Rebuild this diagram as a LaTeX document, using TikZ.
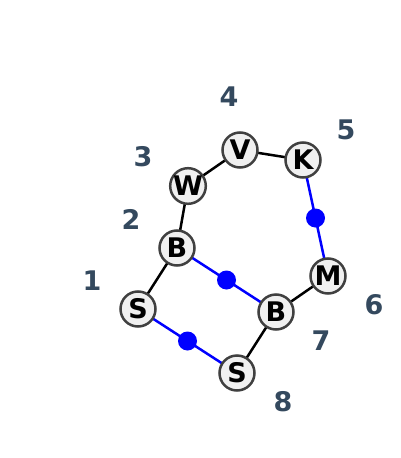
\documentclass[tikz,border=0pt]{standalone}
\usepackage{fontspec}
\setmainfont{DejaVu Sans}
\usetikzlibrary{calc,backgrounds}
\definecolor{numcol}{RGB}{52,73,94}
\definecolor{nodefill}{RGB}{240,240,240}
\definecolor{nodeline}{RGB}{64,64,64}
\begin{document}
\begin{tikzpicture}[x=1pt,y=-1pt,
  atom/.style={circle,draw=nodeline,fill=nodefill,line width=2.5pt,minimum size=35pt,inner sep=0pt,font=\fontsize{27}{27}\selectfont\bfseries},
  num/.style={text=numcol,font=\fontsize{27}{27}\selectfont\bfseries},
  bond/.style={draw=black,line width=2.5pt},
  bbond/.style={draw=blue,line width=2.5pt},
  bdot/.style={circle,fill=blue,minimum size=19pt,inner sep=0pt}]
\useasboundingbox (0,0) rectangle (400,458);
\node[atom] (S1) at (138,309) {S};
\node[atom] (B2) at (177,248) {B};
\node[atom] (W3) at (188,186) {W};
\node[atom] (V4) at (240,150) {V};
\node[atom] (K5) at (303,160) {K};
\node[atom] (M6) at (328,276) {M};
\node[atom] (B7) at (276,312) {B};
\node[atom] (S8) at (237,373) {S};
\node[bdot] (d1) at ($(K5)!0.5!(M6)$) {};
\node[bdot] (d2) at ($(B2)!0.5!(B7)$) {};
\node[bdot] (d3) at ($(S1)!0.5!(S8)$) {};
\begin{scope}[on background layer]
\draw[bond] (S1.center) -- (B2.center);
\draw[bond] (B2.center) -- (W3.center);
\draw[bond] (W3.center) -- (V4.center);
\draw[bond] (V4.center) -- (K5.center);
\draw[bond] (M6.center) -- (B7.center);
\draw[bond] (B7.center) -- (S8.center);
\draw[bbond] (K5.center) -- (M6.center);
\draw[bbond] (B2.center) -- (B7.center);
\draw[bbond] (S1.center) -- (S8.center);
\end{scope}
\node[num] (n1) at (92,281) {1};
\node[num] (n2) at (131,219) {2};
\node[num] (n3) at (143,157) {3};
\node[num] (n4) at (229,97) {4};
\node[num] (n5) at (346,130) {5};
\node[num] (n6) at (374,305) {6};
\node[num] (n7) at (321,341) {7};
\node[num] (n8) at (283,402) {8};
\end{tikzpicture}
\end{document}
